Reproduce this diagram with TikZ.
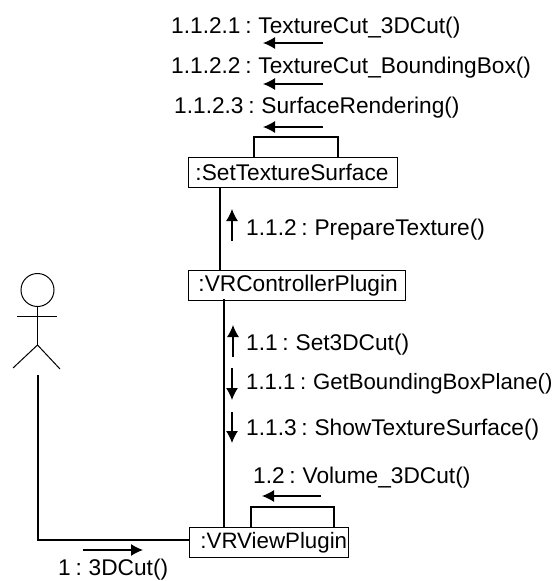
\documentclass[tikz,border=0pt]{standalone}
\usepackage{fontspec}
\setmainfont[WordSpace=0.75]{Liberation Sans}
\usetikzlibrary{arrows.meta}
\tikzset{
  x=1pt,y=-1pt,
  objbox/.style={draw,line width=0.9pt,minimum height=30pt,inner sep=0pt,anchor=north west,align=left},
  big/.style={font=\fontsize{22.7}{24}\selectfont},
  msg/.style={anchor=base west,inner sep=0pt},
  link/.style={line width=1.2pt},
  flow/.style={line width=1.2pt,-{Latex[length=12pt,width=12pt]}},
  stick/.style={line width=1pt}
}
\begin{document}
\begin{tikzpicture}
\useasboundingbox (0,0) rectangle (559,581);
\node[objbox,big,minimum width=209pt,text width=209pt] (sts) at (188,157) {\hspace*{7pt}:SetTextureSurface};
\node[objbox,big,minimum width=217pt,text width=217pt] (vrc) at (188,270) {\hspace*{10pt}:VRControllerPlugin};
\node[objbox,font=\fontsize{22.3}{24}\selectfont,minimum width=159pt,text width=159pt] (vrv) at (189,527) {\hspace*{11pt}:VRViewPlugin};
% links
\draw[link] (sts.south west) ++(32,0) -- (vrc.north west -| 220,270);
\draw[link] (224,299) coordinate (c1) -- (c1 |- vrv.north);
\draw[link] (254,157) |- (338,137) -- (338,157);
\draw[link] (251,527) |- (334,507) -- (334,527);
% actor
\node[draw,circle,stick,minimum size=33pt,inner sep=0pt] (head) at (37.5,290) {};
\coordinate (hip) at (37.5,345);
\draw[stick] (head.south) -- (hip);
\draw[stick] (17,316.5) -- (57,316.5);
\draw[stick] (13,368) -- (hip) -- (60,369);
\coordinate (al) at (38,375);
\draw[link] (al) |- (vrv.west |- 0,540);
% arrows
\draw[flow] (323,43) -- (263,43);
\draw[flow] (323,84) -- (263,84);
\draw[flow] (323,127) -- (263,127);
\draw[flow] (232,241) -- (232,209);
\draw[flow] (233,357) -- (233,325);
\draw[flow] (232,368) -- (232,400);
\draw[flow] (232,412) -- (232,443);
\draw[flow] (321,496) -- (262,496);
\draw[flow] (83,550) -- (143,550);
% labels
\node[msg,big] (m1) at (171,33) {1.1.2.1 : TextureCut\_3DCut()};
\node[msg,big] (m2) at (171,73) {1.1.2.2 : TextureCut\_BoundingBox()};
\node[msg,big] (m3) at (174,113) {1.1.2.3 : SurfaceRendering()};
\node[msg,big] (m4) at (246,235) {1.1.2 : PrepareTexture()};
\node[msg,big] (m5) at (246,350) {1.1 : Set3DCut()};
\node[msg,font=\fontsize{22.2}{24}\selectfont] (m6) at (246,389) {1.1.1 : GetBoundingBoxPlane()};
\node[msg,big] (m7) at (246,435) {1.1.3 : ShowTextureSurface()};
\node[msg,big] (m8) at (253,483) {1.2 : Volume\_3DCut()};
\node[msg,big] (m9) at (58,575.5) {1 : 3DCut()};
\end{tikzpicture}
\end{document}
